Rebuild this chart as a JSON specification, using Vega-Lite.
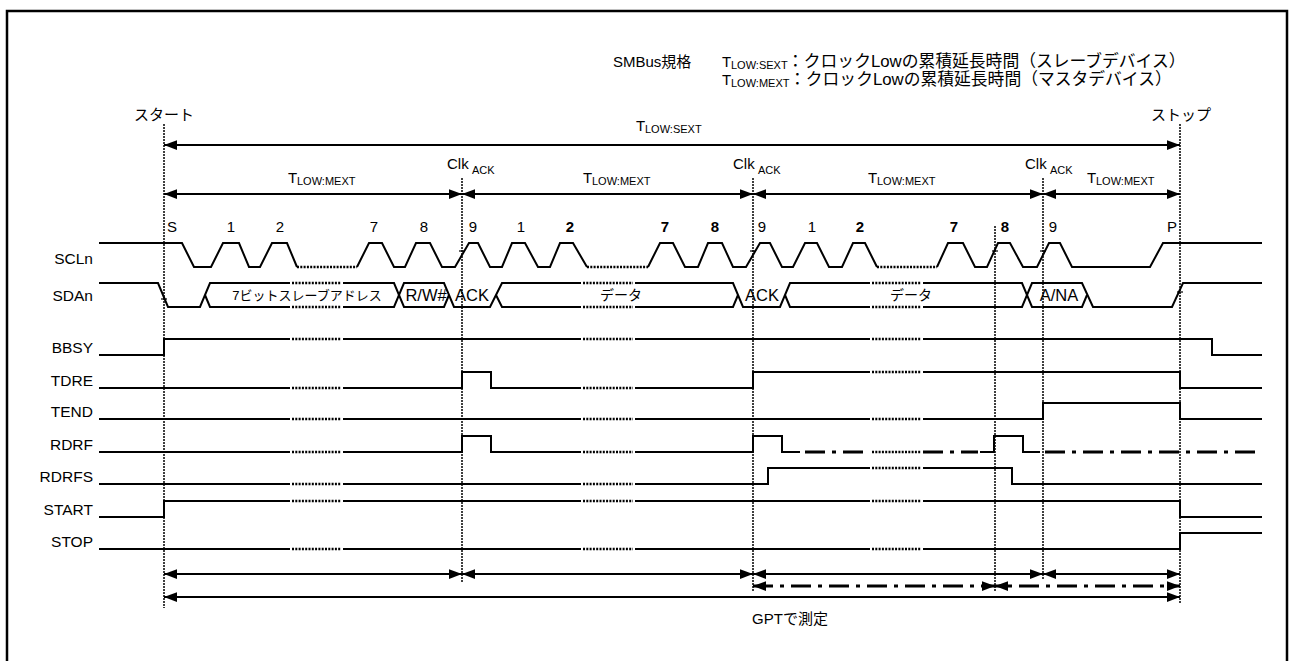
{
"$schema": "https://vega.github.io/schema/vega-lite/v6.json",
"width": 1289, "height": 661, "autosize": "none", "padding": 0, "background": "white",
"config": {"view": {"stroke": null}, "font": "Liberation Sans, Noto Sans CJK JP"},
"datasets": {
"paths": [
{"s":"border","p":"b","o":0,"x":7,"y":661},{"s":"border","p":"b","o":1,"x":7,"y":11},{"s":"border","p":"b","o":2,"x":1287,"y":11},{"s":"border","p":"b","o":3,"x":1287,"y":661},

{"s":"solid","p":"scl1","o":0,"x":99,"y":243},{"s":"solid","p":"scl1","o":1,"x":182,"y":243},{"s":"solid","p":"scl1","o":2,"x":194,"y":267},{"s":"solid","p":"scl1","o":3,"x":211,"y":267},{"s":"solid","p":"scl1","o":4,"x":223,"y":243},{"s":"solid","p":"scl1","o":5,"x":239,"y":243},{"s":"solid","p":"scl1","o":6,"x":249,"y":267},{"s":"solid","p":"scl1","o":7,"x":260,"y":267},{"s":"solid","p":"scl1","o":8,"x":272,"y":243},{"s":"solid","p":"scl1","o":9,"x":287,"y":243},{"s":"solid","p":"scl1","o":10,"x":297,"y":267},

{"s":"solid","p":"scl2","o":0,"x":357,"y":267},{"s":"solid","p":"scl2","o":1,"x":369,"y":243},{"s":"solid","p":"scl2","o":2,"x":382,"y":243},{"s":"solid","p":"scl2","o":3,"x":394,"y":267},{"s":"solid","p":"scl2","o":4,"x":405,"y":267},{"s":"solid","p":"scl2","o":5,"x":416,"y":243},{"s":"solid","p":"scl2","o":6,"x":430,"y":243},{"s":"solid","p":"scl2","o":7,"x":442,"y":267},{"s":"solid","p":"scl2","o":8,"x":455,"y":267},{"s":"solid","p":"scl2","o":9,"x":469,"y":243},{"s":"solid","p":"scl2","o":10,"x":478,"y":243},{"s":"solid","p":"scl2","o":11,"x":490,"y":267},{"s":"solid","p":"scl2","o":12,"x":502,"y":267},{"s":"solid","p":"scl2","o":13,"x":512,"y":243},{"s":"solid","p":"scl2","o":14,"x":525,"y":243},{"s":"solid","p":"scl2","o":15,"x":538,"y":267},{"s":"solid","p":"scl2","o":16,"x":550,"y":267},{"s":"solid","p":"scl2","o":17,"x":560,"y":243},{"s":"solid","p":"scl2","o":18,"x":573,"y":243},{"s":"solid","p":"scl2","o":19,"x":587,"y":267},

{"s":"solid","p":"scl3","o":0,"x":648,"y":267},{"s":"solid","p":"scl3","o":1,"x":660,"y":243},{"s":"solid","p":"scl3","o":2,"x":673,"y":243},{"s":"solid","p":"scl3","o":3,"x":685,"y":267},{"s":"solid","p":"scl3","o":4,"x":698,"y":267},{"s":"solid","p":"scl3","o":5,"x":708,"y":243},{"s":"solid","p":"scl3","o":6,"x":722,"y":243},{"s":"solid","p":"scl3","o":7,"x":733,"y":267},{"s":"solid","p":"scl3","o":8,"x":746,"y":267},{"s":"solid","p":"scl3","o":9,"x":760,"y":243},{"s":"solid","p":"scl3","o":10,"x":770,"y":243},{"s":"solid","p":"scl3","o":11,"x":782,"y":267},{"s":"solid","p":"scl3","o":12,"x":793,"y":267},{"s":"solid","p":"scl3","o":13,"x":805,"y":243},{"s":"solid","p":"scl3","o":14,"x":817,"y":243},{"s":"solid","p":"scl3","o":15,"x":829,"y":267},{"s":"solid","p":"scl3","o":16,"x":842,"y":267},{"s":"solid","p":"scl3","o":17,"x":853,"y":243},{"s":"solid","p":"scl3","o":18,"x":865,"y":243},{"s":"solid","p":"scl3","o":19,"x":877,"y":267},

{"s":"solid","p":"scl4","o":0,"x":937,"y":267},{"s":"solid","p":"scl4","o":1,"x":948,"y":243},{"s":"solid","p":"scl4","o":2,"x":963,"y":243},{"s":"solid","p":"scl4","o":3,"x":975,"y":267},{"s":"solid","p":"scl4","o":4,"x":987,"y":267},{"s":"solid","p":"scl4","o":5,"x":998,"y":243},{"s":"solid","p":"scl4","o":6,"x":1010,"y":243},{"s":"solid","p":"scl4","o":7,"x":1023,"y":267},{"s":"solid","p":"scl4","o":8,"x":1037,"y":267},{"s":"solid","p":"scl4","o":9,"x":1049,"y":243},{"s":"solid","p":"scl4","o":10,"x":1060,"y":243},{"s":"solid","p":"scl4","o":11,"x":1072,"y":267},{"s":"solid","p":"scl4","o":12,"x":1150,"y":267},{"s":"solid","p":"scl4","o":13,"x":1163,"y":243},{"s":"solid","p":"scl4","o":14,"x":1262,"y":243},

{"s":"solid","p":"sda1","o":0,"x":99,"y":283},{"s":"solid","p":"sda1","o":1,"x":158,"y":283},{"s":"solid","p":"sda1","o":2,"x":168,"y":307},{"s":"solid","p":"sda1","o":3,"x":200,"y":307},{"s":"solid","p":"sda1","o":4,"x":210,"y":283},{"s":"solid","p":"sda1","o":5,"x":290,"y":283},
{"s":"solid","p":"sda2","o":0,"x":205,"y":295},{"s":"solid","p":"sda2","o":1,"x":210,"y":307},{"s":"solid","p":"sda2","o":2,"x":290,"y":307},
{"s":"solid","p":"sda3","o":0,"x":343,"y":283},{"s":"solid","p":"sda3","o":1,"x":394,"y":283},{"s":"solid","p":"sda3","o":2,"x":404,"y":307},{"s":"solid","p":"sda3","o":3,"x":444,"y":307},{"s":"solid","p":"sda3","o":4,"x":449,"y":295},
{"s":"solid","p":"sda4","o":0,"x":343,"y":307},{"s":"solid","p":"sda4","o":1,"x":394,"y":307},{"s":"solid","p":"sda4","o":2,"x":404,"y":283},{"s":"solid","p":"sda4","o":3,"x":444,"y":283},{"s":"solid","p":"sda4","o":4,"x":454,"y":307},{"s":"solid","p":"sda4","o":5,"x":490,"y":307},{"s":"solid","p":"sda4","o":6,"x":502,"y":283},{"s":"solid","p":"sda4","o":7,"x":581,"y":283},
{"s":"solid","p":"sda5","o":0,"x":496,"y":295},{"s":"solid","p":"sda5","o":1,"x":502,"y":307},{"s":"solid","p":"sda5","o":2,"x":581,"y":307},
{"s":"solid","p":"sda6","o":0,"x":635,"y":283},{"s":"solid","p":"sda6","o":1,"x":733,"y":283},{"s":"solid","p":"sda6","o":2,"x":743,"y":307},{"s":"solid","p":"sda6","o":3,"x":780,"y":307},{"s":"solid","p":"sda6","o":4,"x":790,"y":283},{"s":"solid","p":"sda6","o":5,"x":870,"y":283},
{"s":"solid","p":"sda7","o":0,"x":635,"y":307},{"s":"solid","p":"sda7","o":1,"x":733,"y":307},{"s":"solid","p":"sda7","o":2,"x":738,"y":295},
{"s":"solid","p":"sda8","o":0,"x":785,"y":295},{"s":"solid","p":"sda8","o":1,"x":790,"y":307},{"s":"solid","p":"sda8","o":2,"x":870,"y":307},
{"s":"solid","p":"sda9","o":0,"x":923,"y":283},{"s":"solid","p":"sda9","o":1,"x":1022,"y":283},{"s":"solid","p":"sda9","o":2,"x":1032,"y":307},{"s":"solid","p":"sda9","o":3,"x":1082,"y":307},{"s":"solid","p":"sda9","o":4,"x":1087,"y":295},
{"s":"solid","p":"sda10","o":0,"x":923,"y":307},{"s":"solid","p":"sda10","o":1,"x":1022,"y":307},{"s":"solid","p":"sda10","o":2,"x":1032,"y":283},{"s":"solid","p":"sda10","o":3,"x":1082,"y":283},{"s":"solid","p":"sda10","o":4,"x":1093,"y":307},{"s":"solid","p":"sda10","o":5,"x":1172,"y":307},{"s":"solid","p":"sda10","o":6,"x":1183,"y":283},{"s":"solid","p":"sda10","o":7,"x":1262,"y":283},

{"s":"solid","p":"bb1","o":0,"x":99,"y":355},{"s":"solid","p":"bb1","o":1,"x":164,"y":355},{"s":"solid","p":"bb1","o":2,"x":164,"y":339},{"s":"solid","p":"bb1","o":3,"x":290,"y":339},
{"s":"solid","p":"bb2","o":0,"x":343,"y":339},{"s":"solid","p":"bb2","o":1,"x":581,"y":339},
{"s":"solid","p":"bb3","o":0,"x":635,"y":339},{"s":"solid","p":"bb3","o":1,"x":870,"y":339},
{"s":"solid","p":"bb4","o":0,"x":923,"y":339},{"s":"solid","p":"bb4","o":1,"x":1212,"y":339},{"s":"solid","p":"bb4","o":2,"x":1212,"y":355},{"s":"solid","p":"bb4","o":3,"x":1262,"y":355},

{"s":"solid","p":"td1","o":0,"x":99,"y":388},{"s":"solid","p":"td1","o":1,"x":290,"y":388},
{"s":"solid","p":"td2","o":0,"x":343,"y":388},{"s":"solid","p":"td2","o":1,"x":462,"y":388},{"s":"solid","p":"td2","o":2,"x":462,"y":372},{"s":"solid","p":"td2","o":3,"x":491,"y":372},{"s":"solid","p":"td2","o":4,"x":491,"y":388},{"s":"solid","p":"td2","o":5,"x":581,"y":388},
{"s":"solid","p":"td3","o":0,"x":635,"y":388},{"s":"solid","p":"td3","o":1,"x":753,"y":388},{"s":"solid","p":"td3","o":2,"x":753,"y":372},{"s":"solid","p":"td3","o":3,"x":870,"y":372},
{"s":"solid","p":"td4","o":0,"x":923,"y":372},{"s":"solid","p":"td4","o":1,"x":1180,"y":372},{"s":"solid","p":"td4","o":2,"x":1180,"y":388},{"s":"solid","p":"td4","o":3,"x":1262,"y":388},

{"s":"solid","p":"te1","o":0,"x":99,"y":419},{"s":"solid","p":"te1","o":1,"x":290,"y":419},
{"s":"solid","p":"te2","o":0,"x":343,"y":419},{"s":"solid","p":"te2","o":1,"x":581,"y":419},
{"s":"solid","p":"te3","o":0,"x":635,"y":419},{"s":"solid","p":"te3","o":1,"x":870,"y":419},
{"s":"solid","p":"te4","o":0,"x":923,"y":419},{"s":"solid","p":"te4","o":1,"x":1043,"y":419},{"s":"solid","p":"te4","o":2,"x":1043,"y":403},{"s":"solid","p":"te4","o":3,"x":1180,"y":403},{"s":"solid","p":"te4","o":4,"x":1180,"y":419},{"s":"solid","p":"te4","o":5,"x":1262,"y":419},

{"s":"solid","p":"rf1","o":0,"x":99,"y":452},{"s":"solid","p":"rf1","o":1,"x":290,"y":452},
{"s":"solid","p":"rf2","o":0,"x":343,"y":452},{"s":"solid","p":"rf2","o":1,"x":462,"y":452},{"s":"solid","p":"rf2","o":2,"x":462,"y":436},{"s":"solid","p":"rf2","o":3,"x":491,"y":436},{"s":"solid","p":"rf2","o":4,"x":491,"y":452},{"s":"solid","p":"rf2","o":5,"x":581,"y":452},
{"s":"solid","p":"rf3","o":0,"x":635,"y":452},{"s":"solid","p":"rf3","o":1,"x":753,"y":452},{"s":"solid","p":"rf3","o":2,"x":753,"y":436},{"s":"solid","p":"rf3","o":3,"x":782,"y":436},{"s":"solid","p":"rf3","o":4,"x":782,"y":452},{"s":"solid","p":"rf3","o":5,"x":800,"y":452},
{"s":"solid","p":"rf4","o":0,"x":980,"y":452},{"s":"solid","p":"rf4","o":1,"x":994,"y":452},{"s":"solid","p":"rf4","o":2,"x":994,"y":436},{"s":"solid","p":"rf4","o":3,"x":1023,"y":436},{"s":"solid","p":"rf4","o":4,"x":1023,"y":452},{"s":"solid","p":"rf4","o":5,"x":1040,"y":452},

{"s":"solid","p":"rs1","o":0,"x":99,"y":484},{"s":"solid","p":"rs1","o":1,"x":290,"y":484},
{"s":"solid","p":"rs2","o":0,"x":343,"y":484},{"s":"solid","p":"rs2","o":1,"x":581,"y":484},
{"s":"solid","p":"rs3","o":0,"x":635,"y":484},{"s":"solid","p":"rs3","o":1,"x":768,"y":484},{"s":"solid","p":"rs3","o":2,"x":768,"y":468},{"s":"solid","p":"rs3","o":3,"x":870,"y":468},
{"s":"solid","p":"rs4","o":0,"x":923,"y":468},{"s":"solid","p":"rs4","o":1,"x":1012,"y":468},{"s":"solid","p":"rs4","o":2,"x":1012,"y":484},{"s":"solid","p":"rs4","o":3,"x":1262,"y":484},

{"s":"solid","p":"st1","o":0,"x":99,"y":517},{"s":"solid","p":"st1","o":1,"x":164,"y":517},{"s":"solid","p":"st1","o":2,"x":164,"y":501},{"s":"solid","p":"st1","o":3,"x":290,"y":501},
{"s":"solid","p":"st2","o":0,"x":343,"y":501},{"s":"solid","p":"st2","o":1,"x":581,"y":501},
{"s":"solid","p":"st3","o":0,"x":635,"y":501},{"s":"solid","p":"st3","o":1,"x":870,"y":501},
{"s":"solid","p":"st4","o":0,"x":923,"y":501},{"s":"solid","p":"st4","o":1,"x":1180,"y":501},{"s":"solid","p":"st4","o":2,"x":1180,"y":517},{"s":"solid","p":"st4","o":3,"x":1262,"y":517},

{"s":"solid","p":"sp1","o":0,"x":99,"y":549},{"s":"solid","p":"sp1","o":1,"x":290,"y":549},
{"s":"solid","p":"sp2","o":0,"x":343,"y":549},{"s":"solid","p":"sp2","o":1,"x":581,"y":549},
{"s":"solid","p":"sp3","o":0,"x":635,"y":549},{"s":"solid","p":"sp3","o":1,"x":870,"y":549},
{"s":"solid","p":"sp4","o":0,"x":923,"y":549},{"s":"solid","p":"sp4","o":1,"x":1180,"y":549},{"s":"solid","p":"sp4","o":2,"x":1180,"y":533},{"s":"solid","p":"sp4","o":3,"x":1262,"y":533},

{"s":"solid","p":"a1","o":0,"x":164,"y":145},{"s":"solid","p":"a1","o":1,"x":1180,"y":145},
{"s":"solid","p":"a2","o":0,"x":164,"y":194},{"s":"solid","p":"a2","o":1,"x":1180,"y":194},
{"s":"solid","p":"a3","o":0,"x":164,"y":574},{"s":"solid","p":"a3","o":1,"x":1180,"y":574},
{"s":"solid","p":"a4","o":0,"x":164,"y":597},{"s":"solid","p":"a4","o":1,"x":1180,"y":597},

{"s":"tick","p":"k1","o":0,"x":459,"y":251},{"s":"tick","p":"k1","o":1,"x":465,"y":251},
{"s":"tick","p":"k2","o":0,"x":750,"y":251},{"s":"tick","p":"k2","o":1,"x":756,"y":251},
{"s":"tick","p":"k3","o":0,"x":992,"y":251},{"s":"tick","p":"k3","o":1,"x":998,"y":251},
{"s":"tick","p":"k4","o":0,"x":1040,"y":251},{"s":"tick","p":"k4","o":1,"x":1046,"y":251},
{"s":"tick","p":"k5","o":0,"x":161,"y":299},{"s":"tick","p":"k5","o":1,"x":167,"y":299},
{"s":"tick","p":"k6","o":0,"x":1177,"y":292},{"s":"tick","p":"k6","o":1,"x":1183,"y":292},

{"s":"dot","p":"d1","o":0,"x":297,"y":267},{"s":"dot","p":"d1","o":1,"x":357,"y":267},
{"s":"dot","p":"d2","o":0,"x":587,"y":267},{"s":"dot","p":"d2","o":1,"x":648,"y":267},
{"s":"dot","p":"d3","o":0,"x":877,"y":267},{"s":"dot","p":"d3","o":1,"x":937,"y":267},
{"s":"dot","p":"d4","o":0,"x":292,"y":283},{"s":"dot","p":"d4","o":1,"x":341,"y":283},
{"s":"dot","p":"d5","o":0,"x":292,"y":307},{"s":"dot","p":"d5","o":1,"x":341,"y":307},
{"s":"dot","p":"d6","o":0,"x":583,"y":283},{"s":"dot","p":"d6","o":1,"x":633,"y":283},
{"s":"dot","p":"d7","o":0,"x":583,"y":307},{"s":"dot","p":"d7","o":1,"x":633,"y":307},
{"s":"dot","p":"d8","o":0,"x":872,"y":283},{"s":"dot","p":"d8","o":1,"x":921,"y":283},
{"s":"dot","p":"d9","o":0,"x":872,"y":307},{"s":"dot","p":"d9","o":1,"x":921,"y":307},
{"s":"dot","p":"d10","o":0,"x":292,"y":339},{"s":"dot","p":"d10","o":1,"x":341,"y":339},
{"s":"dot","p":"d11","o":0,"x":583,"y":339},{"s":"dot","p":"d11","o":1,"x":633,"y":339},
{"s":"dot","p":"d12","o":0,"x":872,"y":339},{"s":"dot","p":"d12","o":1,"x":921,"y":339},
{"s":"dot","p":"d13","o":0,"x":292,"y":388},{"s":"dot","p":"d13","o":1,"x":341,"y":388},
{"s":"dot","p":"d14","o":0,"x":583,"y":388},{"s":"dot","p":"d14","o":1,"x":633,"y":388},
{"s":"dot","p":"d15","o":0,"x":872,"y":372},{"s":"dot","p":"d15","o":1,"x":921,"y":372},
{"s":"dot","p":"d16","o":0,"x":292,"y":419},{"s":"dot","p":"d16","o":1,"x":341,"y":419},
{"s":"dot","p":"d17","o":0,"x":583,"y":419},{"s":"dot","p":"d17","o":1,"x":633,"y":419},
{"s":"dot","p":"d18","o":0,"x":872,"y":419},{"s":"dot","p":"d18","o":1,"x":921,"y":419},
{"s":"dot","p":"d19","o":0,"x":292,"y":452},{"s":"dot","p":"d19","o":1,"x":341,"y":452},
{"s":"dot","p":"d20","o":0,"x":583,"y":452},{"s":"dot","p":"d20","o":1,"x":633,"y":452},
{"s":"dot","p":"d21","o":0,"x":872,"y":452},{"s":"dot","p":"d21","o":1,"x":921,"y":452},
{"s":"dot","p":"d22","o":0,"x":292,"y":484},{"s":"dot","p":"d22","o":1,"x":341,"y":484},
{"s":"dot","p":"d23","o":0,"x":583,"y":484},{"s":"dot","p":"d23","o":1,"x":633,"y":484},
{"s":"dot","p":"d24","o":0,"x":872,"y":468},{"s":"dot","p":"d24","o":1,"x":921,"y":468},
{"s":"dot","p":"d25","o":0,"x":292,"y":501},{"s":"dot","p":"d25","o":1,"x":341,"y":501},
{"s":"dot","p":"d26","o":0,"x":583,"y":501},{"s":"dot","p":"d26","o":1,"x":633,"y":501},
{"s":"dot","p":"d27","o":0,"x":872,"y":501},{"s":"dot","p":"d27","o":1,"x":921,"y":501},
{"s":"dot","p":"d28","o":0,"x":292,"y":549},{"s":"dot","p":"d28","o":1,"x":341,"y":549},
{"s":"dot","p":"d29","o":0,"x":583,"y":549},{"s":"dot","p":"d29","o":1,"x":633,"y":549},
{"s":"dot","p":"d30","o":0,"x":872,"y":549},{"s":"dot","p":"d30","o":1,"x":921,"y":549},

{"s":"dd","p":"e1","o":0,"x":805,"y":452},{"s":"dd","p":"e1","o":1,"x":870,"y":452},
{"s":"dd","p":"e2","o":0,"x":923,"y":452},{"s":"dd","p":"e2","o":1,"x":978,"y":452},
{"s":"dd","p":"e3","o":0,"x":1045,"y":452},{"s":"dd","p":"e3","o":1,"x":1262,"y":452},
{"s":"dd","p":"e4","o":0,"x":753,"y":586},{"s":"dd","p":"e4","o":1,"x":1180,"y":586},

{"s":"guide","p":"g1","o":0,"x":164,"y":124},{"s":"guide","p":"g1","o":1,"x":164,"y":608},
{"s":"guide","p":"g2","o":0,"x":462,"y":178},{"s":"guide","p":"g2","o":1,"x":462,"y":583},
{"s":"guide","p":"g3","o":0,"x":753,"y":178},{"s":"guide","p":"g3","o":1,"x":753,"y":592},
{"s":"guide","p":"g4","o":0,"x":995,"y":226},{"s":"guide","p":"g4","o":1,"x":995,"y":592},
{"s":"guide","p":"g5","o":0,"x":1043,"y":178},{"s":"guide","p":"g5","o":1,"x":1043,"y":580},
{"s":"guide","p":"g6","o":0,"x":1180,"y":124},{"s":"guide","p":"g6","o":1,"x":1180,"y":604}
],
"heads": [
{"d":"L","x":164,"y":145},{"d":"R","x":1180,"y":145},
{"d":"L","x":164,"y":194},{"d":"R","x":462,"y":194},{"d":"L","x":462,"y":194},{"d":"R","x":753,"y":194},{"d":"L","x":753,"y":194},{"d":"R","x":1043,"y":194},{"d":"L","x":1043,"y":194},{"d":"R","x":1180,"y":194},
{"d":"L","x":164,"y":574},{"d":"R","x":462,"y":574},{"d":"L","x":462,"y":574},{"d":"R","x":753,"y":574},{"d":"L","x":753,"y":574},{"d":"R","x":1043,"y":574},{"d":"L","x":1043,"y":574},{"d":"R","x":1180,"y":574},
{"d":"L","x":753,"y":586},{"d":"R","x":995,"y":586},{"d":"L","x":995,"y":586},{"d":"R","x":1180,"y":586},
{"d":"L","x":164,"y":597},{"d":"R","x":1180,"y":597}
],
"texts": [
{"k":"lab","x":93,"y":259,"t":"SCLn"},{"k":"lab","x":93,"y":296,"t":"SDAn"},{"k":"lab","x":93,"y":348,"t":"BBSY"},{"k":"lab","x":93,"y":381,"t":"TDRE"},{"k":"lab","x":93,"y":412,"t":"TEND"},{"k":"lab","x":93,"y":445,"t":"RDRF"},{"k":"lab","x":93,"y":477,"t":"RDRFS"},{"k":"lab","x":93,"y":510,"t":"START"},{"k":"lab","x":93,"y":542,"t":"STOP"},
{"k":"c","x":172,"y":227,"t":"S"},{"k":"c","x":231,"y":227,"t":"1"},{"k":"c","x":280,"y":227,"t":"2"},{"k":"c","x":374,"y":227,"t":"7"},{"k":"c","x":424,"y":227,"t":"8"},{"k":"c","x":473,"y":227,"t":"9"},{"k":"c","x":521,"y":227,"t":"1"},{"k":"c","x":762,"y":227,"t":"9"},{"k":"c","x":812,"y":227,"t":"1"},{"k":"c","x":1053,"y":227,"t":"9"},{"k":"c","x":1172,"y":227,"t":"P"},
{"k":"cb","x":570,"y":227,"t":"2"},{"k":"cb","x":665,"y":227,"t":"7"},{"k":"cb","x":715,"y":227,"t":"8"},{"k":"cb","x":860,"y":227,"t":"2"},{"k":"cb","x":954,"y":227,"t":"7"},{"k":"cb","x":1005,"y":227,"t":"8"},
{"k":"big","x":426,"y":296,"t":"R/W#"},{"k":"big","x":472,"y":296,"t":"ACK"},{"k":"big","x":762,"y":296,"t":"ACK"},{"k":"big","x":1059,"y":296,"t":"A/NA"},
{"k":"c","x":164,"y":115,"t":"スタート"},{"k":"c","x":1181,"y":115,"t":"ストップ"},{"k":"c","x":790,"y":619,"t":"GPTで測定"},
{"k":"d14","x":621,"y":296,"t":"データ"},{"k":"d14","x":911,"y":296,"t":"データ"},
{"k":"d13","x":307,"y":296,"t":"7ビットスレーブアドレス"},
{"k":"l","x":636,"y":126,"t":"T"},{"k":"sub","x":645,"y":130,"t":"LOW:SEXT"},
{"k":"l","x":288,"y":178,"t":"T"},{"k":"sub","x":297,"y":182,"t":"LOW:MEXT"},
{"k":"l","x":583,"y":178,"t":"T"},{"k":"sub","x":592,"y":182,"t":"LOW:MEXT"},
{"k":"l","x":868,"y":178,"t":"T"},{"k":"sub","x":877,"y":182,"t":"LOW:MEXT"},
{"k":"l","x":1087,"y":178,"t":"T"},{"k":"sub","x":1096,"y":182,"t":"LOW:MEXT"},
{"k":"l","x":447,"y":164,"t":"Clk"},{"k":"sub","x":472,"y":171,"t":"ACK"},
{"k":"l","x":733,"y":164,"t":"Clk"},{"k":"sub","x":758,"y":171,"t":"ACK"},
{"k":"l","x":1025,"y":164,"t":"Clk"},{"k":"sub","x":1050,"y":171,"t":"ACK"},
{"k":"l","x":613,"y":62,"t":"SMBus規格"},
{"k":"l","x":722,"y":62,"t":"T"},{"k":"sub","x":731,"y":66,"t":"LOW:SEXT"},{"k":"hd","x":787,"y":62,"t":"：クロックLowの累積延長時間（スレーブデバイス）"},
{"k":"l","x":722,"y":80,"t":"T"},{"k":"sub","x":731,"y":84,"t":"LOW:MEXT"},{"k":"hd","x":789,"y":80,"t":"：クロックLowの累積延長時間（マスタデバイス）"}
]
},
"encoding": {
"x": {"field": "x", "type": "quantitative", "scale": {"domain": [0, 1289], "nice": false, "zero": false}, "axis": null},
"y": {"field": "y", "type": "quantitative", "scale": {"domain": [0, 661], "nice": false, "zero": false, "reverse": true}, "axis": null}
},
"layer": [
{"data": {"name": "paths"}, "transform": [{"filter": "datum.s === 'border'"}], "mark": {"type": "line", "color": "black", "strokeWidth": 2.5, "strokeJoin": "miter"}, "encoding": {"detail": {"field": "p"}, "order": {"field": "o"}}},
{"data": {"name": "paths"}, "transform": [{"filter": "datum.s === 'guide'"}], "mark": {"type": "line", "color": "black", "strokeWidth": 1.5, "strokeDash": [2, 1]}, "encoding": {"detail": {"field": "p"}, "order": {"field": "o"}}},
{"data": {"name": "paths"}, "transform": [{"filter": "datum.s === 'solid'"}], "mark": {"type": "line", "color": "black", "strokeWidth": 2, "strokeJoin": "miter"}, "encoding": {"detail": {"field": "p"}, "order": {"field": "o"}}},
{"data": {"name": "paths"}, "transform": [{"filter": "datum.s === 'tick'"}], "mark": {"type": "line", "color": "black", "strokeWidth": 1.2}, "encoding": {"detail": {"field": "p"}, "order": {"field": "o"}}},
{"data": {"name": "paths"}, "transform": [{"filter": "datum.s === 'dot'"}], "mark": {"type": "line", "color": "black", "strokeWidth": 2.5, "strokeDash": [2, 1.3]}, "encoding": {"detail": {"field": "p"}, "order": {"field": "o"}}},
{"data": {"name": "paths"}, "transform": [{"filter": "datum.s === 'dd'"}], "mark": {"type": "line", "color": "black", "strokeWidth": 3, "strokeDash": [20, 7, 4, 7]}, "encoding": {"detail": {"field": "p"}, "order": {"field": "o"}}},
{"data": {"name": "heads"}, "transform": [{"filter": "datum.d === 'L'"}], "mark": {"type": "point", "shape": "M0,0L2,-0.75L2,0.75Z", "filled": true, "color": "black", "opacity": 1, "size": 169, "strokeWidth": 0}},
{"data": {"name": "heads"}, "transform": [{"filter": "datum.d === 'R'"}], "mark": {"type": "point", "shape": "M0,0L-2,-0.75L-2,0.75Z", "filled": true, "color": "black", "opacity": 1, "size": 169, "strokeWidth": 0}},
{"data": {"name": "texts"}, "transform": [{"filter": "datum.k === 'lab'"}], "mark": {"type": "text", "align": "right", "baseline": "middle", "fontSize": 15.5, "color": "black"}, "encoding": {"text": {"field": "t"}}},
{"data": {"name": "texts"}, "transform": [{"filter": "datum.k === 'c'"}], "mark": {"type": "text", "align": "center", "baseline": "middle", "fontSize": 15, "color": "black"}, "encoding": {"text": {"field": "t"}}},
{"data": {"name": "texts"}, "transform": [{"filter": "datum.k === 'big'"}], "mark": {"type": "text", "align": "center", "baseline": "middle", "fontSize": 16.5, "color": "black"}, "encoding": {"text": {"field": "t"}}},
{"data": {"name": "texts"}, "transform": [{"filter": "datum.k === 'cb'"}], "mark": {"type": "text", "align": "center", "baseline": "middle", "fontSize": 15, "fontWeight": "bold", "color": "black"}, "encoding": {"text": {"field": "t"}}},
{"data": {"name": "texts"}, "transform": [{"filter": "datum.k === 'd14'"}], "mark": {"type": "text", "align": "center", "baseline": "middle", "fontSize": 14, "color": "black"}, "encoding": {"text": {"field": "t"}}},
{"data": {"name": "texts"}, "transform": [{"filter": "datum.k === 'd13'"}], "mark": {"type": "text", "align": "center", "baseline": "middle", "fontSize": 13, "color": "black"}, "encoding": {"text": {"field": "t"}}},
{"data": {"name": "texts"}, "transform": [{"filter": "datum.k === 'l'"}], "mark": {"type": "text", "align": "left", "baseline": "middle", "fontSize": 15, "color": "black"}, "encoding": {"text": {"field": "t"}}},
{"data": {"name": "texts"}, "transform": [{"filter": "datum.k === 'hd'"}], "mark": {"type": "text", "align": "left", "baseline": "middle", "fontSize": 16.8, "color": "black"}, "encoding": {"text": {"field": "t"}}},
{"data": {"name": "texts"}, "transform": [{"filter": "datum.k === 'sub'"}], "mark": {"type": "text", "align": "left", "baseline": "middle", "fontSize": 11, "color": "black"}, "encoding": {"text": {"field": "t"}}}
]
}
